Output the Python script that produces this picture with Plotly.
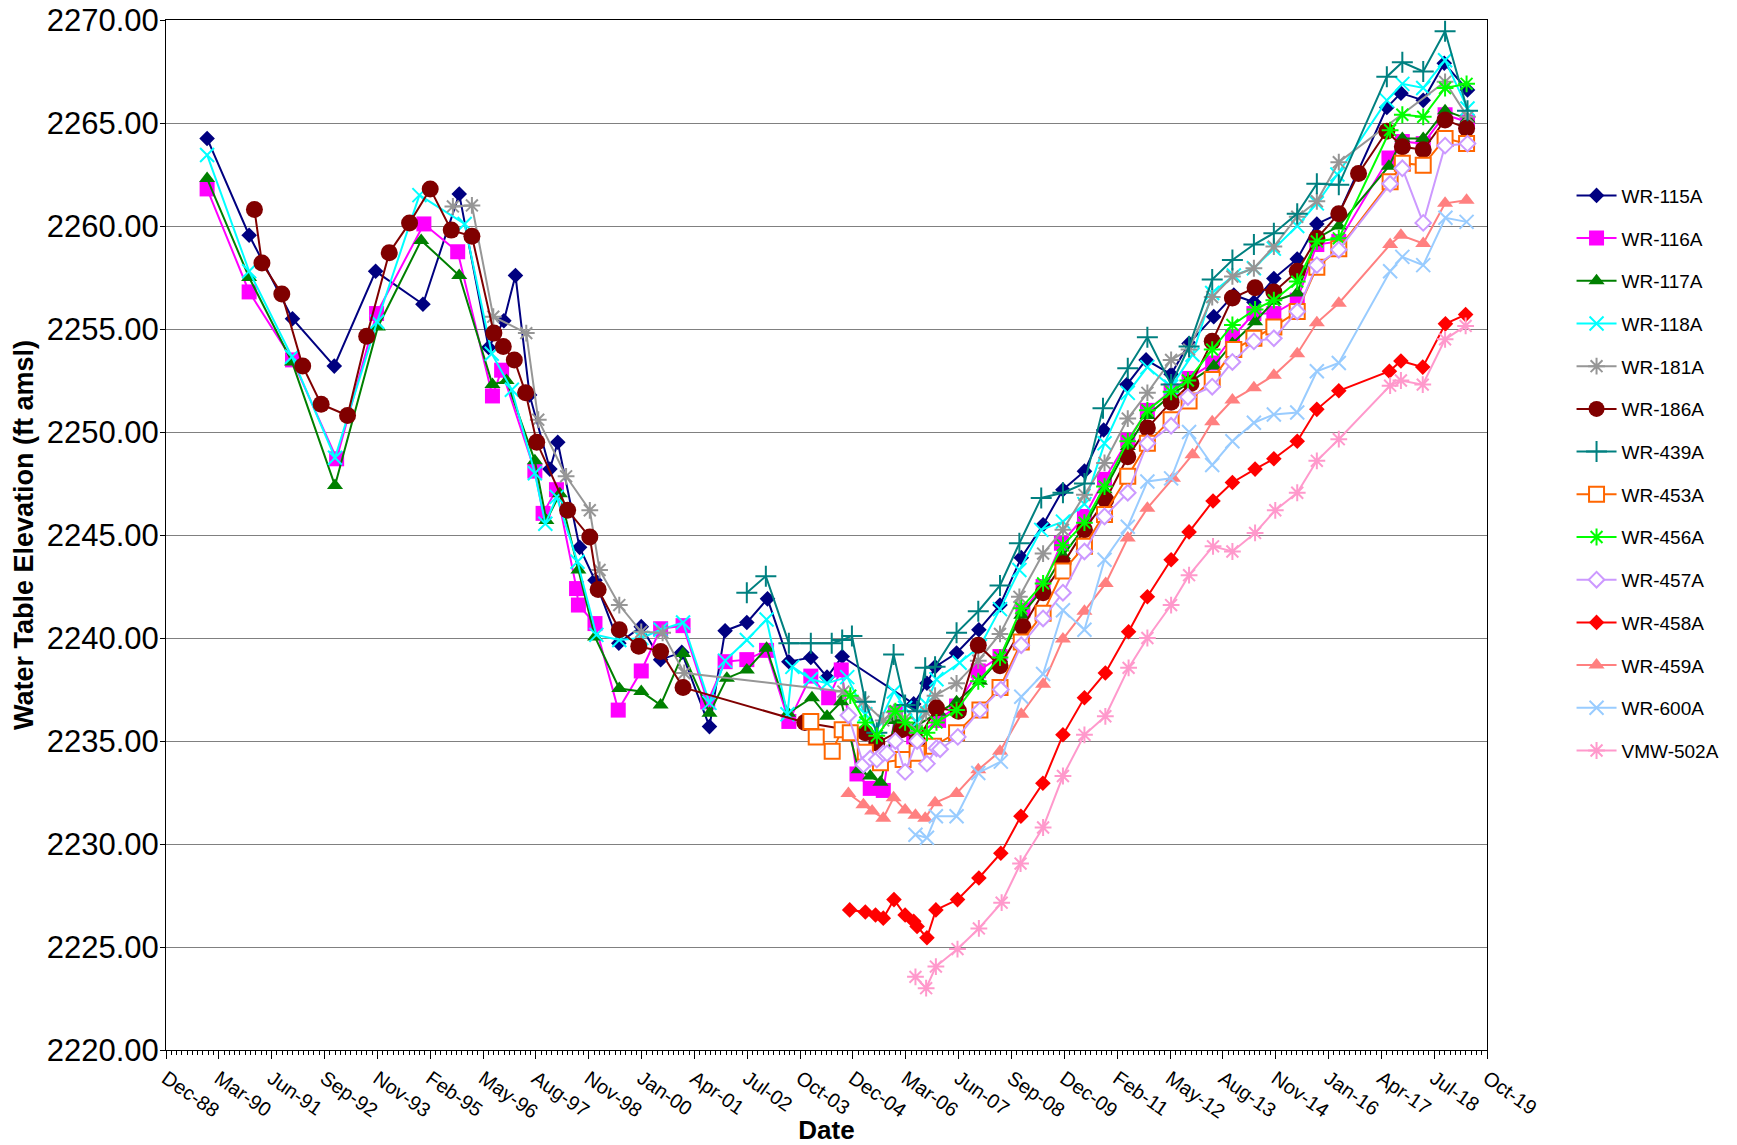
import pandas as pd
import plotly.graph_objects as go

# ---------------- data ----------------
WR115A_DATES = ["1989-12-08","1990-12-01","1991-12-05","1992-11-25","1993-11-12","1994-12-20","1995-10-25",
    "1996-07-01","1996-11-08","1997-02-15","1997-06-15","1997-12-05","1998-02-10","1998-08-15","1998-12-24",
    "1999-07-15","2000-01-22","2000-07-05","2001-01-01","2001-08-25","2002-01-05","2002-07-09","2003-01-01",
    "2003-07-02","2004-01-05","2004-05-22","2004-09-28","2006-05-30","2006-09-20","2006-11-28","2007-05-30",
    "2007-12-06","2008-06-03","2008-12-01","2009-06-05","2009-11-21","2010-05-23","2010-11-03","2011-05-20",
    "2011-10-30","2012-05-30","2012-10-30","2013-05-28","2013-11-15","2014-05-05","2014-10-22","2015-05-09",
    "2015-10-23","2016-04-27","2017-06-10","2017-10-08","2018-04-16","2018-10-12","2019-04-28"]
WR115A_VALUES = [2264.25,2259.55,2255.5,2253.2,2257.8,2256.2,2261.55,
    2254.1,2255.4,2257.6,2251.8,2248.2,2249.5,2244.4,2242.8,
    2239.75,2240.55,2238.95,2239.3,2235.7,2240.35,2240.75,2241.9,
    2238.85,2239.05,2238.1,2239.1,2236.8,2237.8,2238.6,2239.27,
    2240.4,2241.6,2243.9,2245.5,2247.2,2248.1,2250.1,2252.3,
    2253.5,2252.8,2254.3,2255.6,2256.65,2256.3,2257.45,2258.4,
    2260.1,2260.6,2265.75,2266.45,2266.1,2267.9,2266.6]

WR116A_DATES = ["1989-12-08","1990-12-01","1991-12-05","1992-12-15","1993-11-20","1994-12-28","1995-10-12",
    "1996-08-03","1996-10-20","1997-07-30","1997-10-08","1998-01-30","1998-07-20","1998-08-05","1998-12-24",
    "1999-07-10","2000-01-22","2000-07-05","2001-01-12","2001-08-10","2002-01-05","2002-07-09","2002-12-24",
    "2003-07-02","2004-01-05","2004-06-05","2004-09-20","2005-02-01","2005-05-25","2005-09-13","2005-12-25",
    "2006-05-30","2006-12-28","2007-05-30","2007-12-01","2008-06-03","2008-12-15","2009-06-05","2009-11-08",
    "2010-05-23","2010-11-10","2011-05-27","2011-11-10","2012-05-30","2012-10-30","2013-05-19","2013-11-03",
    "2014-05-05","2014-10-22","2015-05-09","2015-10-23","2016-04-27","2017-06-28","2017-10-20","2018-04-16",
    "2018-10-19","2019-04-28"]
WR116A_VALUES = [2261.8,2256.8,2253.5,2248.7,2255.75,2260.1,2258.75,
    2251.75,2253.0,2248.1,2246.05,2247.2,2242.4,2241.6,2240.7,
    2236.5,2238.4,2240.45,2240.6,2236.9,2238.85,2238.95,2239.4,
    2235.95,2238.15,2237.1,2238.45,2233.4,2232.7,2232.6,2236.35,
    2235.2,2236.0,2236.7,2238.4,2239.1,2241.35,2242.5,2244.6,
    2245.9,2247.7,2249.6,2251.05,2252.0,2252.6,2253.35,2254.6,
    2255.75,2255.75,2256.4,2259.1,2259.25,2263.3,2264.1,2264.0,
    2265.4,2265.05]

WR117A_DATES = ["1989-12-08","1990-12-01","1991-12-01","1992-12-01","1993-12-01","1994-12-05","1995-10-25",
    "1996-08-03","1996-12-01","1997-07-30","1997-11-05","1998-02-28","1998-08-05","1998-12-24","1999-07-19",
    "2000-01-22","2000-07-05","2001-01-12","2001-08-25","2002-01-20","2002-07-09","2002-12-24","2003-06-25",
    "2004-01-15","2004-05-22","2004-09-20","2005-02-15","2005-05-25","2005-08-20","2005-12-25","2006-06-14",
    "2006-12-28","2007-05-30","2007-12-15","2008-06-03","2008-12-01","2009-06-05","2009-11-21","2010-05-23",
    "2010-11-10","2011-05-27","2011-11-10","2012-05-30","2012-10-30","2013-05-28","2013-11-03","2014-05-15",
    "2014-10-22","2015-05-09","2015-10-23","2016-04-27","2017-06-28","2017-10-20","2018-04-16","2018-10-19",
    "2019-04-28"]
WR117A_VALUES = [2262.3,2257.5,2253.4,2247.4,2255.1,2259.3,2257.6,
    2252.3,2252.5,2248.6,2245.7,2247.0,2243.3,2240.05,2237.55,
    2237.4,2236.75,2239.25,2236.35,2238.05,2238.45,2239.5,2236.35,
    2237.1,2236.2,2236.9,2233.6,2233.3,2233.0,2236.0,2235.7,
    2236.4,2236.9,2237.9,2239.0,2241.1,2242.4,2244.0,2245.4,
    2247.2,2249.3,2250.8,2251.8,2252.4,2253.2,2254.3,2255.35,
    2256.35,2256.75,2259.4,2260.0,2262.9,2264.25,2264.25,2265.6,
    2265.2]

WR118A_DATES = ["1989-12-08","1990-12-01","1991-12-01","1992-12-01","1993-11-25","1994-11-20","1995-12-10",
    "1996-07-28","1997-01-15","1997-07-30","1997-10-27","1998-02-01","1998-07-28","1999-01-05","1999-07-19",
    "2000-01-22","2000-07-05","2001-01-12","2001-08-25","2002-01-05","2002-07-09","2002-12-24","2003-06-20",
    "2003-08-01","2004-01-05","2004-05-22","2004-11-10","2005-04-13","2005-07-15","2005-12-13","2006-03-18",
    "2006-06-25","2006-09-13","2006-12-10","2007-06-25","2007-12-15","2008-06-03","2008-11-15","2009-05-20",
    "2009-11-21","2010-05-23","2010-11-10","2011-05-27","2011-11-10","2012-05-30","2012-11-28","2013-05-15",
    "2013-11-15","2014-05-05","2014-10-22","2015-05-09","2015-10-23","2016-04-15","2017-06-10","2017-10-20",
    "2018-04-16","2018-10-19","2019-04-28"]
WR118A_VALUES = [2263.45,2257.8,2253.65,2248.75,2255.35,2261.5,2260.1,
    2253.8,2252.05,2248.0,2245.55,2246.85,2243.7,2240.15,2239.9,
    2240.0,2240.4,2240.75,2236.85,2238.9,2239.9,2240.9,2236.3,
    2238.6,2238.0,2237.8,2238.1,2236.3,2235.6,2237.4,2236.6,
    2235.9,2236.8,2238.0,2238.8,2239.6,2241.4,2243.3,2245.25,
    2245.65,2246.5,2249.45,2251.9,2253.15,2252.2,2253.75,2256.75,
    2257.6,2257.95,2258.9,2260.0,2261.1,2262.5,2266.1,2266.9,
    2266.7,2268.05,2265.7]

WR181A_DATES = ["1995-09-01","1996-02-10","1996-08-10","1997-05-18","1997-08-28","1998-04-22","1998-11-10",
    "1999-02-01","1999-07-19","2000-01-22","2000-07-22","2001-01-22","2004-10-08","2005-03-28","2005-09-13",
    "2005-12-13","2006-03-18","2006-06-25","2006-09-13","2006-11-28","2007-05-30","2007-12-01","2008-06-03",
    "2008-11-15","2009-06-05","2009-11-21","2010-05-23","2010-11-10","2011-05-27","2011-11-10","2012-05-30",
    "2012-10-30","2013-05-15","2013-11-03","2014-05-05","2014-10-22","2015-05-09","2015-10-23","2016-04-27",
    "2018-10-19","2019-04-28"]
WR181A_VALUES = [2260.95,2261.0,2255.6,2254.8,2250.6,2247.85,2246.2,
    2243.3,2241.6,2240.3,2240.25,2238.3,2237.4,2236.9,2236.0,
    2236.4,2236.1,2235.5,2236.4,2237.2,2237.8,2238.9,2240.2,
    2242.0,2244.1,2245.25,2246.95,2248.5,2250.65,2251.9,2253.5,
    2254.0,2256.55,2257.55,2257.95,2259.0,2260.45,2261.2,2263.1,
    2267.0,2265.3]

WR186A_DATES = ["1991-01-15","1991-03-20","1991-09-05","1992-03-01","1992-08-05","1993-03-18","1993-08-28",
    "1994-03-08","1994-08-28","1995-02-20","1995-08-18","1996-02-10","1996-08-15","1996-11-03","1997-02-05",
    "1997-05-12","1997-08-15","1998-05-05","1998-11-10","1999-01-20","1999-07-19","2000-01-01","2000-07-05",
    "2001-01-12","2003-11-15","2005-04-13","2005-07-20","2006-02-15","2006-06-28","2006-12-10","2007-06-15",
    "2007-12-01","2008-06-03","2008-12-15","2009-06-05","2009-11-21","2010-05-23","2010-11-20","2011-05-27",
    "2011-11-10","2012-05-30","2012-11-15","2013-05-15","2013-11-03","2014-05-15","2014-10-22","2015-05-09",
    "2015-10-23","2016-04-27","2016-10-12","2017-06-10","2017-10-20","2018-04-16","2018-10-19","2019-04-20"]
WR186A_VALUES = [2260.8,2258.2,2256.7,2253.2,2251.35,2250.8,2254.65,
    2258.7,2260.15,2261.8,2259.8,2259.5,2254.8,2254.15,2253.5,
    2251.9,2249.5,2246.2,2244.9,2242.35,2240.4,2239.6,2239.35,
    2237.6,2235.9,2235.4,2234.9,2235.55,2235.0,2236.6,2236.45,
    2239.65,2238.65,2240.55,2242.2,2243.6,2245.25,2246.7,2248.8,
    2250.2,2251.45,2252.35,2254.4,2256.5,2257.0,2256.8,2257.8,
    2259.4,2260.6,2262.55,2264.6,2263.85,2263.7,2265.15,2264.75]

WR439A_DATES = ["2002-07-09","2002-12-18","2003-07-02","2004-01-05","2004-07-01","2004-09-28","2004-12-20",
    "2005-04-13","2005-07-20","2005-12-10","2006-03-18","2006-06-28","2006-09-05","2006-11-28","2007-05-30",
    "2007-12-01","2008-06-03","2008-11-15","2009-05-20","2009-11-21","2010-05-23","2010-10-28","2011-05-27",
    "2011-11-10","2012-05-30","2012-10-30","2013-05-15","2013-11-03","2014-05-05","2014-10-22","2015-05-09",
    "2015-10-23","2016-04-27","2017-06-10","2017-10-20","2018-04-16","2018-10-19","2019-04-28"]
WR439A_VALUES = [2242.2,2243.0,2239.75,2239.75,2239.75,2239.9,2240.1,
    2236.9,2235.4,2239.2,2236.75,2236.45,2238.55,2238.6,2240.25,
    2241.3,2242.55,2244.6,2246.8,2247.05,2247.5,2251.15,2253.1,
    2254.6,2252.3,2254.15,2257.4,2258.35,2259.1,2259.65,2260.6,
    2262.05,2262.0,2267.25,2267.95,2267.5,2269.45,2265.6]

WR453A_DATES = ["2004-01-05","2004-02-20","2004-07-05","2004-09-28","2004-12-06","2005-04-13","2005-08-20",
    "2006-03-01","2006-06-28","2006-11-15","2007-05-30","2007-12-15","2008-06-03","2008-12-01","2009-06-05",
    "2009-11-21","2010-05-23","2010-11-10","2011-05-27","2011-11-10","2012-05-30","2012-10-30","2013-05-15",
    "2013-11-15","2014-05-05","2014-10-22","2015-05-09","2015-10-23","2016-04-27","2017-07-08","2017-10-20",
    "2018-04-16","2018-10-19","2019-04-20"]
WR453A_VALUES = [2235.95,2235.2,2234.5,2235.55,2235.4,2234.45,2233.95,
    2234.1,2234.4,2234.75,2235.4,2236.5,2237.6,2239.8,2241.2,
    2243.25,2244.45,2246.0,2247.85,2249.45,2250.6,2251.5,2252.55,
    2254.0,2254.55,2255.1,2255.85,2258.0,2258.9,2262.15,2263.05,
    2262.95,2264.25,2264.0]

WR456A_DATES = ["2004-12-06","2005-04-13","2005-07-20","2005-12-25","2006-03-18","2006-06-28","2006-09-20",
    "2006-12-10","2007-05-30","2007-12-01","2008-06-03","2008-12-01","2009-06-05","2009-11-21","2010-05-23",
    "2010-11-10","2011-05-27","2011-11-10","2012-05-30","2012-10-20","2013-05-15","2013-11-03","2014-05-15",
    "2014-10-22","2015-05-09","2015-10-23","2016-04-27","2017-07-08","2017-10-20","2018-04-16","2018-10-19",
    "2019-04-20"]
WR456A_VALUES = [2237.2,2235.9,2235.25,2236.45,2235.9,2235.4,2235.4,
    2235.9,2236.5,2237.9,2239.05,2241.45,2242.65,2244.5,2245.6,
    2247.35,2249.55,2251.05,2251.95,2252.5,2254.0,2255.2,2255.95,
    2256.4,2257.3,2259.25,2259.4,2264.65,2265.4,2265.3,2266.7,
    2266.9]

WR457A_DATES = ["2004-11-20","2005-03-28","2005-05-25","2005-07-20","2005-09-13","2005-10-15","2005-12-25",
    "2006-03-18","2006-06-28","2006-09-20","2006-12-10","2007-01-10","2007-06-10","2007-12-15","2008-06-10",
    "2008-12-01","2009-06-05","2009-11-21","2010-05-23","2010-11-10","2011-05-27","2011-11-10","2012-05-30",
    "2012-10-20","2013-05-15","2013-11-03","2014-05-05","2014-10-22","2015-05-09","2015-10-23","2016-04-27",
    "2017-07-08","2017-10-20","2018-04-16","2018-10-19","2019-04-28"]
WR457A_VALUES = [2236.25,2233.85,2234.15,2234.1,2234.4,2234.4,2235.0,
    2233.5,2235.0,2233.9,2234.65,2234.6,2235.2,2236.5,2237.5,
    2239.65,2240.95,2242.2,2244.2,2245.9,2247.05,2249.45,2250.3,
    2251.7,2252.2,2253.4,2254.4,2254.55,2255.85,2258.1,2258.85,
    2262.05,2262.8,2260.15,2263.9,2264.0]

WR458A_DATES = ["2004-12-01","2005-04-13","2005-07-09","2005-09-13","2005-12-13","2006-03-18","2006-05-30",
    "2006-06-28","2006-09-20","2006-12-05","2007-06-07","2007-12-06","2008-06-10","2008-11-28","2009-06-03",
    "2009-11-21","2010-05-23","2010-11-17","2011-06-03","2011-11-10","2012-05-30","2012-10-30","2013-05-22",
    "2013-11-03","2014-05-15","2014-10-22","2015-05-09","2015-10-23","2016-04-27","2017-07-02","2017-10-08",
    "2018-04-12","2018-10-22","2019-04-12"]
WR458A_VALUES = [2226.8,2226.7,2226.55,2226.4,2227.3,2226.55,2226.25,
    2226.0,2225.45,2226.8,2227.3,2228.35,2229.55,2231.35,2232.95,
    2235.3,2237.1,2238.3,2240.3,2242.0,2243.8,2245.15,2246.65,
    2247.55,2248.2,2248.7,2249.55,2251.1,2252.0,2252.95,2253.45,
    2253.15,2255.25,2255.7]

WR459A_DATES = ["2004-11-20","2005-03-28","2005-06-10","2005-09-13","2005-12-10","2006-03-18","2006-06-14",
    "2006-09-05","2006-11-28","2007-05-30","2007-12-01","2008-06-03","2008-12-01","2009-06-05","2009-11-21",
    "2010-05-23","2010-11-20","2011-05-27","2011-11-10","2012-06-15","2012-11-28","2013-05-15","2013-11-03",
    "2014-05-05","2014-10-22","2015-05-09","2015-10-23","2016-04-27","2017-07-08","2017-10-08","2018-04-16",
    "2018-10-19","2019-04-20"]
WR459A_VALUES = [2232.45,2231.9,2231.6,2231.25,2232.25,2231.65,2231.4,
    2231.25,2232.0,2232.45,2233.6,2234.5,2236.3,2237.75,2239.95,
    2241.3,2242.65,2244.85,2246.3,2247.75,2248.9,2250.5,2251.55,
    2252.15,2252.75,2253.8,2255.3,2256.25,2259.1,2259.55,2259.15,
    2261.1,2261.25]

WR600A_DATES = ["2006-06-14","2006-09-20","2006-12-05","2007-05-30","2007-12-01","2008-06-10","2008-12-01",
    "2009-06-05","2009-11-21","2010-05-23","2010-11-10","2011-05-27","2011-11-10","2012-05-30","2012-10-30",
    "2013-05-15","2013-11-03","2014-05-05","2014-10-22","2015-05-09","2015-10-23","2016-04-27","2017-07-08",
    "2017-10-20","2018-04-16","2018-10-22","2019-04-20"]
WR600A_VALUES = [2230.45,2230.3,2231.35,2231.35,2233.45,2234.0,2237.15,
    2238.25,2241.35,2240.4,2243.8,2245.4,2247.6,2247.75,2250.0,
    2248.4,2249.55,2250.45,2250.85,2250.95,2252.95,2253.35,2257.8,
    2258.5,2258.1,2260.4,2260.2]

VMW502A_DATES = ["2006-06-14","2006-09-13","2006-12-05","2007-06-07","2007-12-06","2008-06-17","2008-11-25",
    "2009-06-05","2009-11-21","2010-05-23","2010-11-17","2011-06-03","2011-11-10","2012-05-30","2012-10-30",
    "2013-05-22","2013-11-03","2014-05-15","2014-11-03","2015-05-09","2015-10-23","2016-04-27","2017-07-08",
    "2017-10-08","2018-04-12","2018-10-19","2019-04-12"]
VMW502A_VALUES = [2223.55,2223.0,2224.05,2224.9,2225.9,2227.15,2229.05,
    2230.8,2233.3,2235.3,2236.2,2238.55,2240.0,2241.6,2243.05,
    2244.45,2244.2,2245.1,2246.2,2247.05,2248.6,2249.65,2252.25,
    2252.5,2252.3,2254.5,2255.15]

SERIES_NAMES = ["WR-115A","WR-116A","WR-117A","WR-118A","WR-181A","WR-186A","WR-439A",
                "WR-453A","WR-456A","WR-457A","WR-458A","WR-459A","WR-600A","VMW-502A"]

X_AXIS_START = "1988-12-23"
X_AXIS_END = "2019-10-11"
X_MAJOR_DAYS = 450
N_X_TICKS = 26
Y_TICKS = [2220, 2225, 2230, 2235, 2240, 2245, 2250, 2255, 2260, 2265, 2270]

# ---------------- styles ----------------
STYLES = [
    dict(color="#000080", symbol="diamond", size=12, open=False),
    dict(color="#FF00FF", symbol="square", size=15, open=False),
    dict(color="#008000", symbol="triangle-up", size=14, open=False),
    dict(color="#00FFFF", symbol="x-thin-open", size=14, open=True),
    dict(color="#969696", symbol="asterisk-open", size=14, open=True),
    dict(color="#800000", symbol="circle", size=17, open=False),
    dict(color="#008080", symbol="cross-thin-open", size=15, open=True),
    dict(color="#FF6600", symbol="square-open", size=15, open=True),
    dict(color="#00FF00", symbol="asterisk-open", size=14, open=True),
    dict(color="#CC99FF", symbol="diamond-open", size=12, open=True),
    dict(color="#FF0000", symbol="diamond", size=12, open=False),
    dict(color="#FF8080", symbol="triangle-up", size=14, open=False),
    dict(color="#99CCFF", symbol="x-thin-open", size=14, open=True),
    dict(color="#FF99CC", symbol="asterisk-open", size=14, open=True),
]

DATA = [
    (WR115A_DATES, WR115A_VALUES), (WR116A_DATES, WR116A_VALUES), (WR117A_DATES, WR117A_VALUES),
    (WR118A_DATES, WR118A_VALUES), (WR181A_DATES, WR181A_VALUES), (WR186A_DATES, WR186A_VALUES),
    (WR439A_DATES, WR439A_VALUES), (WR453A_DATES, WR453A_VALUES), (WR456A_DATES, WR456A_VALUES),
    (WR457A_DATES, WR457A_VALUES), (WR458A_DATES, WR458A_VALUES), (WR459A_DATES, WR459A_VALUES),
    (WR600A_DATES, WR600A_VALUES), (VMW502A_DATES, VMW502A_VALUES),
]

FONT = "Arial, 'Liberation Sans', sans-serif"

fig = go.Figure()
for name, (dates, vals), st in zip(SERIES_NAMES, DATA, STYLES):
    marker = dict(symbol=st["symbol"], size=st["size"], color=st["color"])
    if st["open"]:
        marker["line"] = dict(color=st["color"], width=2)
        if st["symbol"] in ("square-open", "diamond-open"):
            marker["symbol"] = st["symbol"].replace("-open", "")
            marker["color"] = "white"
    else:
        marker["line"] = dict(color=st["color"], width=0)
    fig.add_trace(go.Scatter(
        x=pd.to_datetime(dates), y=vals, name=name, mode="lines+markers",
        line=dict(color=st["color"], width=2), marker=marker,
        legendgroup=name,
    ))

tickvals = pd.date_range(X_AXIS_START, periods=N_X_TICKS, freq=f"{X_MAJOR_DAYS}D")

fig.update_layout(
    width=1737, height=1145,
    margin=dict(l=166, r=245, t=20, b=95),
    paper_bgcolor="white", plot_bgcolor="white",
    font=dict(family=FONT, color="black", size=20),
    showlegend=True,
    legend=dict(x=1.064, y=0.848, xanchor="left", yanchor="top",
                font=dict(size=19, family=FONT), tracegroupgap=15,
                bgcolor="rgba(0,0,0,0)", itemwidth=40),
    xaxis=dict(
        automargin=False,
        range=[pd.Timestamp(X_AXIS_START), pd.Timestamp(X_AXIS_END)],
        tickvals=tickvals, tickformat="%b-%y", tickangle=35,
        ticks="outside", ticklen=8, tickcolor="black",
        showline=True, linecolor="black", linewidth=1, mirror=True,
        showgrid=False, zeroline=False,
        tickfont=dict(size=20, family=FONT),
        minor=dict(ticks="outside", ticklen=4, tickcolor="black",
                   dtick=45 * 86400000, tick0=pd.Timestamp(X_AXIS_START), showgrid=False),
        title=dict(text="<b>Date</b>", font=dict(size=26, family=FONT), standoff=0),
    ),
    yaxis=dict(
        automargin=False,
        range=[2220, 2270], tickvals=Y_TICKS, tickformat=".2f",
        ticks="outside", ticklen=5, tickcolor="black", ticklabelstandoff=-5,
        showline=True, linecolor="black", linewidth=1, mirror=True,
        showgrid=True, gridcolor="#808080", gridwidth=1, zeroline=False,
        tickfont=dict(size=31, family=FONT),
        title=dict(text="<b>Water Table Elevation (ft amsl)</b>", font=dict(size=27, family=FONT), standoff=5),
    ),
)

fig.write_html("out.html", config={"displayModeBar": False},
               post_script="document.body.style.margin='0px';")
